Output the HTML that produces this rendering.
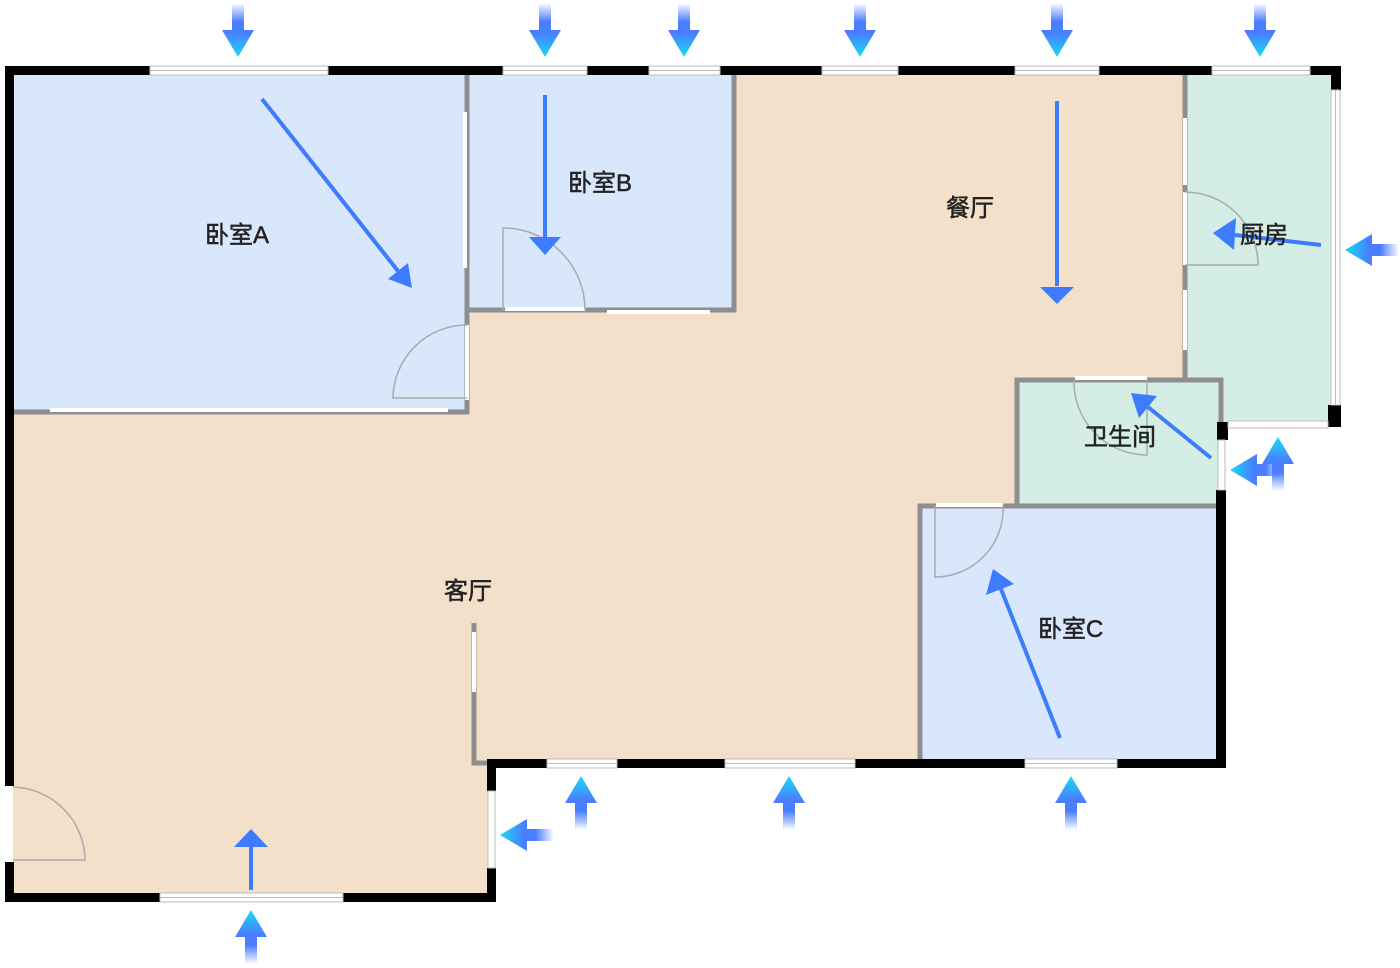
<!DOCTYPE html>
<html><head><meta charset="utf-8"><style>
html,body{margin:0;padding:0;background:#fff}
svg{display:block}
text{font-family:"Liberation Sans","Noto Sans CJK SC",sans-serif;font-size:24px;fill:#222;stroke:#222;stroke-width:0.5}
</style></head><body>
<svg width="1400" height="968" viewBox="0 0 1400 968" xmlns="http://www.w3.org/2000/svg">
<defs>
<linearGradient id="g" gradientUnits="userSpaceOnUse" x1="0" y1="-54" x2="0" y2="0">
<stop offset="0" stop-color="#4a7dff" stop-opacity="0"/>
<stop offset="0.35" stop-color="#4a7dff"/>
<stop offset="0.55" stop-color="#4a7dff"/>
<stop offset="1" stop-color="#16dcf2"/>
</linearGradient>
<g id="oa"><rect x="-6" y="-54" width="12" height="28" fill="url(#g)"/><polygon points="-16,-27 16,-27 0,0" fill="url(#g)"/></g>
</defs>
<!-- floors -->
<rect x="13" y="75" width="1172" height="690" fill="#f3e0cb"/>
<rect x="13" y="410" width="477" height="487" fill="#f3e0cb"/>
<rect x="13" y="75" width="454" height="335" fill="#d9e7fc"/>
<rect x="467" y="75" width="267" height="235" fill="#d9e7fc"/>
<rect x="1185" y="75" width="150" height="347" fill="#d4eee6"/>
<rect x="1017" y="380" width="204" height="126" fill="#d4eee6"/>
<rect x="920" y="506" width="301" height="254" fill="#d9e7fc"/>
<!-- interior gray walls -->
<g stroke="#8e8e8e" stroke-width="5" fill="none">
<path d="M467 72 V412 H13"/>
<path d="M467 310 H734 V75"/>
<path d="M1185 72 V380 H1221 V506"/>
<path d="M1017 506 V380 H1185"/>
<path d="M920 760 V506 H1221"/>
<path d="M474 623 V763 H492"/>
</g>
<g stroke="#fff" stroke-width="4">
<line x1="465" y1="112" x2="465" y2="268"/>
<line x1="50" y1="410" x2="448" y2="410"/>
<line x1="467" y1="325" x2="467" y2="400"/>
<line x1="505" y1="309" x2="585" y2="309"/>
<line x1="607" y1="312" x2="710" y2="312"/>
<line x1="1185" y1="118" x2="1185" y2="185"/>
<line x1="1185" y1="192" x2="1185" y2="265"/>
<line x1="1185" y1="290" x2="1185" y2="350"/>
<line x1="1075" y1="378" x2="1147" y2="378"/>
<line x1="936" y1="505" x2="1003" y2="505"/>
<line x1="474" y1="632" x2="474" y2="692"/>
<line x1="9" y1="787" x2="9" y2="860"/>
</g>
<g stroke="#aaa" stroke-width="1.5" fill="none">
<path d="M503 310 V228 A82 82 0 0 1 585 310"/>
<path d="M467 398 H393 A74 74 0 0 1 467 325"/>
<path d="M1185 265 H1258 A73 73 0 0 0 1185 192"/>
<path d="M1147 380 V455 A73 73 0 0 1 1074 380"/>
<path d="M935 506 V577 A68 68 0 0 0 1003 506"/>
<path d="M13 860 H85 A74 74 0 0 0 13 787"/>
</g>
<g fill="#000">
<rect x="5" y="66" width="145" height="9"/>
<rect x="328" y="66" width="175" height="9"/>
<rect x="587" y="66" width="62" height="9"/>
<rect x="720" y="66" width="102" height="9"/>
<rect x="898" y="66" width="117" height="9"/>
<rect x="1099" y="66" width="113" height="9"/>
<rect x="1310" y="66" width="31" height="9"/>
<rect x="1331" y="66" width="10" height="24"/>
<rect x="1328" y="405" width="13" height="22"/>
<rect x="1217" y="422" width="11" height="18"/>
<rect x="1216" y="490" width="10" height="278"/>
<rect x="5" y="66" width="9" height="720"/>
<rect x="5" y="862" width="9" height="40"/>
<rect x="5" y="893" width="155" height="9"/>
<rect x="343" y="893" width="153" height="9"/>
<rect x="487" y="868" width="9" height="34"/>
<rect x="487" y="759" width="9" height="32"/>
<rect x="487" y="759" width="60" height="9"/>
<rect x="617" y="759" width="108" height="9"/>
<rect x="855" y="759" width="170" height="9"/>
<rect x="1117" y="759" width="109" height="9"/>
</g>
<g fill="#fff" stroke="#bbb" stroke-width="1">
<rect x="150" y="66" width="178" height="9"/>
<rect x="503" y="66" width="84" height="9"/>
<rect x="649" y="66" width="71" height="9"/>
<rect x="822" y="66" width="76" height="9"/>
<rect x="1015" y="66" width="84" height="9"/>
<rect x="1212" y="66" width="98" height="9"/>
<rect x="1331" y="90" width="9" height="315"/>
<rect x="1228" y="421" width="100" height="7"/>
<rect x="1218" y="440" width="7" height="50"/>
<rect x="547" y="759" width="70" height="9"/>
<rect x="725" y="759" width="130" height="9"/>
<rect x="1025" y="759" width="92" height="9"/>
<rect x="160" y="893" width="183" height="9"/>
<rect x="488" y="791" width="7" height="77"/>
</g>
<g stroke="#bbb" stroke-width="1">
<line x1="150" y1="70.5" x2="328" y2="70.5"/><line x1="503" y1="70.5" x2="587" y2="70.5"/>
<line x1="649" y1="70.5" x2="720" y2="70.5"/><line x1="822" y1="70.5" x2="898" y2="70.5"/>
<line x1="1015" y1="70.5" x2="1099" y2="70.5"/><line x1="1212" y1="70.5" x2="1310" y2="70.5"/>
<line x1="547" y1="763.5" x2="617" y2="763.5"/><line x1="725" y1="763.5" x2="855" y2="763.5"/>
<line x1="1025" y1="763.5" x2="1117" y2="763.5"/><line x1="160" y1="897.5" x2="343" y2="897.5"/>
<line x1="1335.5" y1="90" x2="1335.5" y2="405"/>
</g>
<!-- inner arrows -->
<g stroke="#3d7bff" stroke-width="4" fill="#3d7bff">
<line x1="262" y1="99" x2="398" y2="271"/><polygon stroke="none" points="412,288 388,279 408,263"/>
<line x1="545" y1="95" x2="545" y2="238"/><polygon stroke="none" points="529,237 561,237 545,255"/>
<line x1="1057" y1="101" x2="1057" y2="286"/><polygon stroke="none" points="1040,287 1074,287 1057,304"/>
<line x1="1321" y1="245" x2="1235" y2="235"/><polygon stroke="none" points="1213,233 1236,218 1234,250"/>
<line x1="1211" y1="458" x2="1148" y2="407"/><polygon stroke="none" points="1131,393 1157,396 1139,418"/>
<line x1="1060" y1="738" x2="1001" y2="589"/><polygon stroke="none" points="993,569 1014,584 986,595"/>
<line x1="251" y1="890" x2="251" y2="846"/><polygon stroke="none" points="234,847 268,847 251,829"/>
</g>
<use href="#oa" transform="translate(238,57)"/>
<use href="#oa" transform="translate(545,57)"/>
<use href="#oa" transform="translate(684,57)"/>
<use href="#oa" transform="translate(860,57)"/>
<use href="#oa" transform="translate(1057,57)"/>
<use href="#oa" transform="translate(1260,57)"/>
<use href="#oa" transform="translate(581,776) rotate(180)"/>
<use href="#oa" transform="translate(789,776) rotate(180)"/>
<use href="#oa" transform="translate(1071,776) rotate(180)"/>
<use href="#oa" transform="translate(251,910) rotate(180)"/>
<use href="#oa" transform="translate(1278,437) rotate(180)"/>
<use href="#oa" transform="translate(1345,250) rotate(90)"/>
<use href="#oa" transform="translate(500,835) rotate(90)"/>
<use href="#oa" transform="translate(1230,470) rotate(90)"/>
<text x="205" y="243">卧室A</text>
<text x="568" y="191">卧室B</text>
<text x="946" y="216">餐厅</text>
<text x="1240" y="243">厨房</text>
<text x="1084" y="445">卫生间</text>
<text x="1038" y="637">卧室C</text>
<text x="444" y="599">客厅</text>
</svg>
</body></html>
